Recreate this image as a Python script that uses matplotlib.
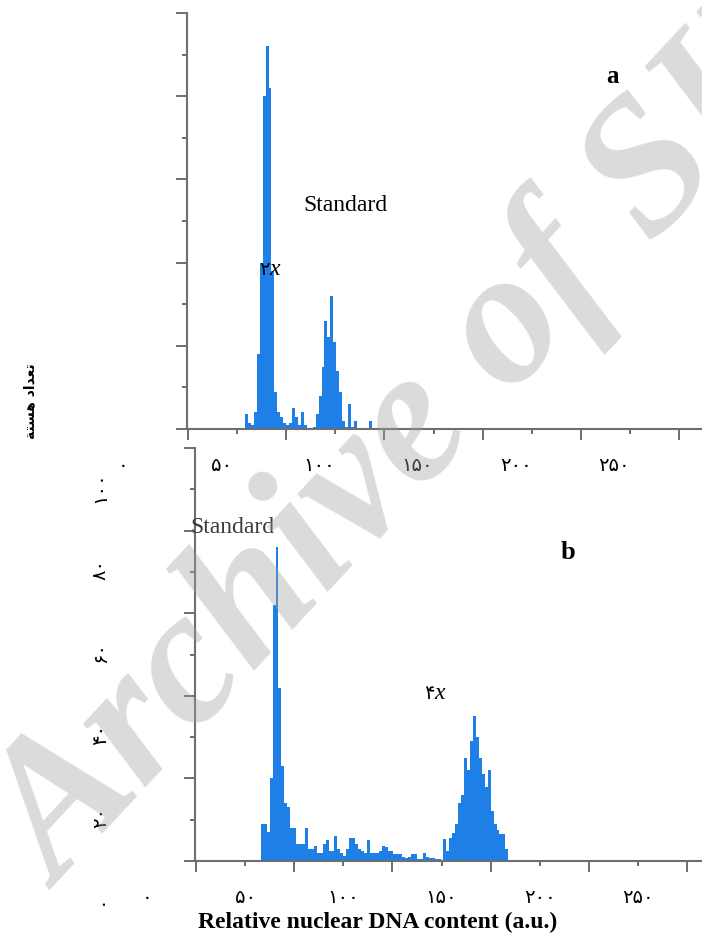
import matplotlib
matplotlib.use('Agg')
from matplotlib import pyplot as plt
from matplotlib import transforms

# histogram (a): 2x sample + standard, bins of 1.5 units starting at 54
bin_width = 1.5
start_a = 54.0
counts_a = [3.5, 1.5, 1, 4, 18, 40, 80, 92, 82, 38,
            9, 4, 3, 1.5, 1, 1.5, 5, 3, 1, 4,
            1, 0, 0, 0.5, 3.6, 8, 15, 26, 22, 32,
            21, 14, 9, 2, 0.5, 6, 0.5, 2, 0, 0,
            0, 0, 2]

# histogram (b): standard + 4x sample, bins of 1.5 units starting at 58
start_b = 58.0
counts_b = [9, 9, 7, 20, 62, 76, 42, 23, 14, 13,
            8, 8, 4, 4, 4, 8, 3, 3, 3.6, 2,
            2, 4, 5, 2.4, 2.4, 6, 3, 2, 1.2, 3,
            5.6, 5.6, 4, 2.8, 2.5, 2, 5, 2, 2, 2,
            2.5, 3.6, 3.4, 2.4, 2.4, 1.6, 1.6, 1.6, 1, 0.8,
            1, 1.6, 1.6, 0.6, 0.6, 2, 1, 0.8, 0.8, 0.6,
            0.6, 0.3, 5.3, 2.5, 5.5, 6.9, 9, 14, 16, 25,
            22, 29, 35, 30, 25, 21, 18, 22, 12, 9,
            7.5, 6.5, 6.5, 3]

x_label_values = [0, 50, 100, 150, 200, 250]
y_label_values = [0, 20, 40, 60, 80, 100]
x_major = [25, 75, 125, 175, 225, 275]
x_minor = [50, 100, 150, 200, 250]
y_major = [0, 20, 40, 60, 80, 100]
y_minor = [10, 30, 50, 70, 90]

x_title = 'Relative nuclear DNA content (a.u.)'
# "تعداد هسته" written with presentation forms in visual order
y_title = '\ufe94\ufe98\ufeb4\ufeeb \ufea9\ufe8d\ufeaa\ufecc\ufe97'

BLUE = '#1e80e6'
GREY = '#6e6e6e'
SERIF = ['Liberation Serif', 'DejaVu Sans']
ARABIC = ['DejaVu Sans']
FA = str.maketrans('0123456789', '\u06f0\u06f1\u06f2\u06f3\u06f4\u06f5\u06f6\u06f7\u06f8\u06f9')


def fa(n):
    return str(n).translate(FA)


def style_axes(ax, xmax):
    ax.set_xlim(24.5, xmax)
    ax.set_ylim(0, 100)
    ax.set_facecolor('none')
    for side in ('top', 'right'):
        ax.spines[side].set_visible(False)
    for side in ('left', 'bottom'):
        ax.spines[side].set_color(GREY)
        ax.spines[side].set_linewidth(1.5)
    ax.set_xticks(x_major)
    ax.set_xticks(x_minor, minor=True)
    ax.set_yticks(y_major)
    ax.set_yticks(y_minor, minor=True)
    ax.tick_params(which='major', length=8, width=1.4, color=GREY)
    ax.tick_params(which='minor', length=3.5, width=1.4, color=GREY)
    ax.tick_params(which='both', labelbottom=False, labelleft=False)


def draw_hist(ax, start, counts):
    lefts = [start + bin_width * i for i in range(len(counts))]
    ax.bar(lefts, counts, width=bin_width, align='edge', color=BLUE, linewidth=0, zorder=1)


def x_labels(fig, ax, shift_px):
    trans = transforms.blended_transform_factory(ax.transData, ax.transAxes) + \
        transforms.ScaledTranslation(shift_px / 100, 0, fig.dpi_scale_trans)
    for v in x_label_values:
        ax.text(v, -0.085, fa(v), transform=trans, ha='center', va='center',
                fontsize=14, family=ARABIC, clip_on=False)


fig = plt.figure(figsize=(7.02, 9.37), dpi=100)
ax_a = fig.add_axes([187 / 702, 1 - 430 / 937, 515 / 702, 416 / 937])
ax_b = fig.add_axes([195 / 702, 1 - 862 / 937, 507 / 702, 413 / 937])

# panel a
style_axes(ax_a, 286.7)
draw_hist(ax_a, start_a, counts_a)
x_labels(fig, ax_a, -16)
ax_a.text(105, 54, 'Standard', ha='center', va='center', fontsize=17, family=SERIF)
ax_a.text(241, 85, 'a', ha='center', va='center', fontsize=18, family=SERIF, fontweight='bold')
ax_a.text(66.5, 38.5, '\u06f2', ha='right', va='center', fontsize=14, family=ARABIC)
ax_a.text(66.5, 38.5, 'x', ha='left', va='center', fontsize=17, family=SERIF, style='italic')

# panel b
style_axes(ax_b, 282.6)
draw_hist(ax_b, start_b, counts_b)
x_labels(fig, ax_b, 0)
ax_b.text(43.4, 81, 'Standard', ha='center', va='center', fontsize=17, family=SERIF, color='#3a3a3a')
ax_b.text(214.5, 75, 'b', ha='center', va='center', fontsize=19, family=SERIF, fontweight='bold')
ax_b.text(146.5, 40.7, '\u06f4', ha='right', va='center', fontsize=14, family=ARABIC)
ax_b.text(146.5, 40.7, 'x', ha='left', va='center', fontsize=17, family=SERIF, style='italic')

# y tick labels sit left of panel b, shifted down as in the original
ytrans = transforms.blended_transform_factory(ax_b.transAxes, ax_b.transData) + \
    transforms.ScaledTranslation(0, -0.38, fig.dpi_scale_trans)
for v in y_label_values:
    ax_b.text(-0.187, v, fa(v), transform=ytrans, rotation=90, ha='center', va='center',
              fontsize=14, family=ARABIC, clip_on=False)

fig.text(0.043, 1 - 401 / 937, y_title, rotation=90, ha='center', va='center',
         fontsize=10, family=ARABIC, fontweight='bold')
fig.text(0.538, 0.015, x_title, ha='center', va='center', fontsize=17,
         family=SERIF, fontweight='bold')

# watermark
fig.text(60 / 702, 1 - 890 / 937, 'Archive of SID', rotation=47, rotation_mode='anchor',
         ha='left', va='baseline', fontsize=138, family=SERIF, fontweight='bold',
         style='italic', color='#a0a0a0', alpha=0.38, zorder=10)

fig.savefig('out.png', dpi=100)
